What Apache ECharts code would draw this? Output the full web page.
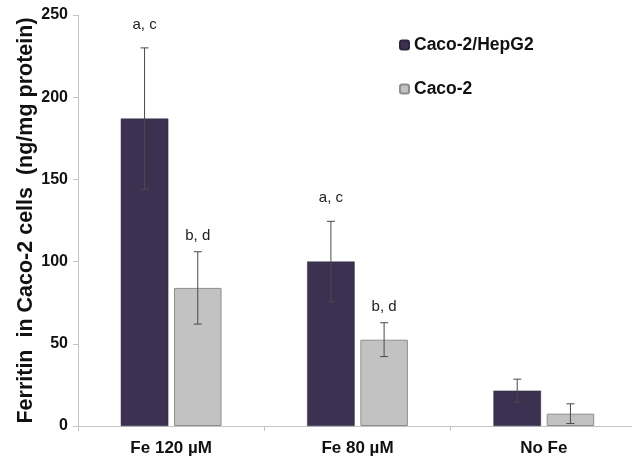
<!DOCTYPE html>
<html>
<head>
<meta charset="utf-8">
<script src="https://cdn.jsdelivr.net/npm/echarts@6/dist/echarts.min.js"></script>
<style>html,body{margin:0;padding:0;background:#fff;}#c{width:632px;height:457px;}</style>
</head>
<body>
<div id="c"></div>
<script>
var categories = ['Fe 120 µM', 'Fe 80 µM', 'No Fe'];
var seriesNames = ['Caco-2/HepG2', 'Caco-2'];
var hepg2 = [187, 100, 21.5];
var hepg2Err = [43, 24.5, 7];
var caco2 = [84, 52.5, 7.5];
var caco2Err = [22, 10.3, 6];
var hepg2Letters = ['a, c', 'a, c', ''];
var caco2Letters = ['b, d', 'b, d', ''];
var yTicks = [0, 50, 100, 150, 200, 250];

var BAR_W = 0.255, GAP = 0.12;
var FONT = '"Liberation Sans", Arial, sans-serif';

function errSeries(vals, errs, letters, side, labelOff) {
  var data = vals.map(function (v, i) { return [i, v, errs[i], letters[i]]; });
  return {
    type: 'custom',
    z: 10,
    silent: true,
    data: data,
    renderItem: function (params, api) {
      var i = api.value(0), v = api.value(1), e = api.value(2);
      var band = api.size([1, 0])[0];
      var bw = band * BAR_W;
      var off = side * (bw + bw * GAP) / 2;
      var c = api.coord([i, v]);
      var x = c[0] + off;
      var top = api.coord([i, v + e])[1];
      var bot = api.coord([i, v - e])[1];
      var cap = 4;
      var st = { stroke: '#4a4a4a', lineWidth: 1 };
      var children = [
        { type: 'line', shape: { x1: x, y1: top, x2: x, y2: bot }, style: st },
        { type: 'line', shape: { x1: x - cap, y1: top, x2: x + cap, y2: top }, style: st },
        { type: 'line', shape: { x1: x - cap, y1: bot, x2: x + cap, y2: bot }, style: st }
      ];
      var txt = letters[i];
      if (txt) {
        children.push({ type: 'text', style: { text: txt, x: x, y: top - labelOff, align: 'center', verticalAlign: 'middle', fill: '#222', font: '15px ' + FONT } });
      }
      return { type: 'group', children: children };
    }
  };
}

var chart = echarts.init(document.getElementById('c'), null, { renderer: 'canvas' });
chart.setOption({
  animation: false,
  backgroundColor: '#fff',
  grid: { left: 78, top: 15, width: 559, height: 411, containLabel: false, outerBoundsMode: 'none' },
  legend: {
    orient: 'vertical', left: 394, top: 31, itemWidth: 9, itemHeight: 9, itemGap: 26,
    data: seriesNames,
    textStyle: { fontFamily: FONT, fontWeight: 'bold', fontSize: 17.5, color: '#111' }
  },
  xAxis: {
    type: 'category', data: categories,
    axisLine: { lineStyle: { color: '#c4c4c4', width: 1 } },
    axisTick: { show: true, length: 5, lineStyle: { color: '#c4c4c4' } },
    axisLabel: { margin: 14, fontFamily: FONT, fontWeight: 'bold', fontSize: 17, color: '#111' }
  },
  yAxis: {
    type: 'value', min: yTicks[0], max: yTicks[yTicks.length - 1], interval: 50,
    name: 'Ferritin  in Caco-2 cells  (ng/mg protein)',
    nameLocation: 'middle', nameGap: 41, nameMoveOverlap: false,
    nameTextStyle: { fontFamily: FONT, fontWeight: 'bold', fontSize: 21.5, color: '#111' },
    axisLine: { show: true, lineStyle: { color: '#c4c4c4' } },
    axisTick: { show: true, length: 5, lineStyle: { color: '#c4c4c4' } },
    splitLine: { show: false },
    axisLabel: { margin: 10, fontFamily: FONT, fontWeight: 'bold', fontSize: 16, color: '#111' }
  },
  series: [
    { name: seriesNames[0], type: 'bar', data: hepg2, barWidth: (BAR_W * 100) + '%', barGap: (GAP * 100) + '%',
      itemStyle: { color: '#3c3150', borderColor: '#2e2640', borderWidth: 0.5 } },
    { name: seriesNames[1], type: 'bar', data: caco2, barWidth: (BAR_W * 100) + '%',
      itemStyle: { color: '#c2c2c2', borderColor: '#8e8e8e', borderWidth: 1 } },
    errSeries(hepg2, hepg2Err, hepg2Letters, -1, 23.5),
    errSeries(caco2, caco2Err, caco2Letters, 1, 16)
  ]
});
</script>
</body>
</html>
